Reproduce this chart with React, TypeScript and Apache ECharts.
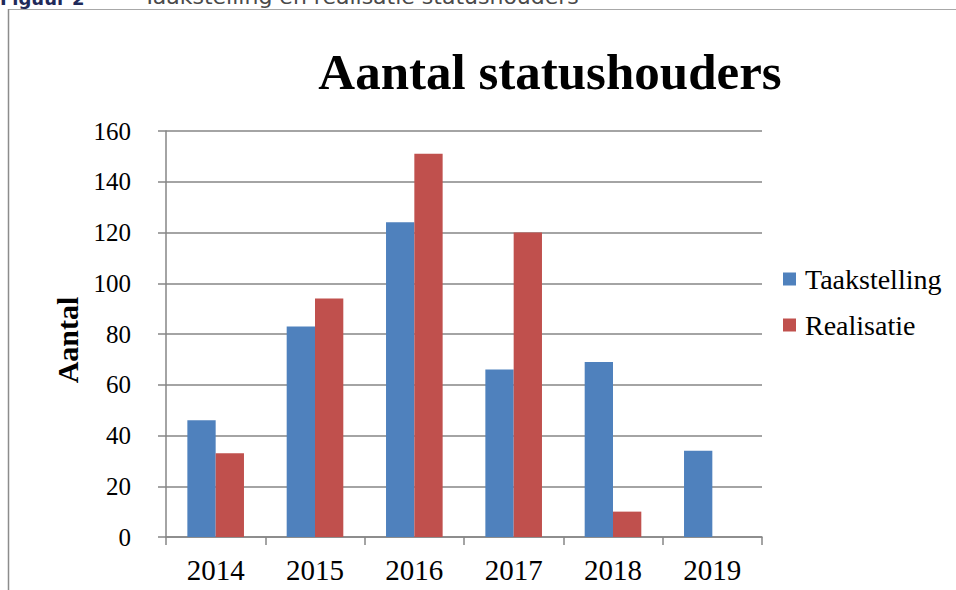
import React, { useEffect, useRef } from "react";
import * as echarts from "echarts";

const categories = ["2014", "2015", "2016", "2017", "2018", "2019"];
const taakstelling = [46, 83, 124, 66, 69, 34];
const realisatie = [33, 94, 151, 120, 10, null];
const seriesNames = ["Taakstelling", "Realisatie"];
const chartTitle = "Aantal statushouders";
const yAxisName = "Aantal";
const figureLabel = "Figuur 2";
const figureCaption = "Taakstelling en realisatie statushouders";

const SERIF = "'Liberation Serif', 'DejaVu Serif', serif";

export default function App() {
  const ref = useRef<HTMLDivElement>(null);
  useEffect(() => {
    if (!ref.current) return;
    const chart = echarts.init(ref.current, undefined, { renderer: "svg" });
    chart.setOption({
      animation: false,
      backgroundColor: "#ffffff",
      title: {
        text: chartTitle,
        left: 545,
        top: 41,
        textAlign: "center",
        textStyle: { fontFamily: SERIF, fontSize: 51, fontWeight: "bold", color: "#000" },
      },
      legend: {
        orient: "vertical",
        left: 783,
        top: 265,
        itemWidth: 13,
        itemHeight: 13,
        itemGap: 18,
        padding: 0,
        icon: "rect",
        data: seriesNames,
        textStyle: { fontFamily: SERIF, fontSize: 28, color: "#000", padding: [0, 0, 0, 4] },
      },
      grid: { left: 166, right: 194, top: 131, bottom: 53, containLabel: false },
      xAxis: {
        type: "category",
        data: categories,
        axisLine: { show: true, lineStyle: { color: "#868686", width: 1.5 } },
        axisTick: { show: true, length: 8, lineStyle: { color: "#868686", width: 1.5 } },
        axisLabel: { fontFamily: SERIF, fontSize: 29, color: "#000", margin: 18 },
      },
      yAxis: {
        type: "value",
        min: 0,
        max: 160,
        interval: 20,
        name: yAxisName,
        nameLocation: "middle",
        nameRotate: 90,
        nameGap: 84,
        nameTextStyle: {
          fontFamily: SERIF,
          fontSize: 30,
          fontWeight: "bold",
          color: "#000",
          padding: [0, 12, 0, 0],
        },
        axisLine: { show: true, lineStyle: { color: "#868686", width: 1.5 } },
        axisTick: { show: true, length: 8, lineStyle: { color: "#868686", width: 1.5 } },
        axisLabel: { fontFamily: SERIF, fontSize: 25, color: "#000", margin: 35 },
        splitLine: { show: true, lineStyle: { color: "#868686", width: 1.5 } },
      },
      series: [
        {
          name: seriesNames[0],
          type: "bar",
          data: taakstelling,
          barGap: "0%",
          barCategoryGap: "43%",
          itemStyle: { color: "#4F81BD" },
        },
        {
          name: seriesNames[1],
          type: "bar",
          data: realisatie,
          barGap: "0%",
          barCategoryGap: "43%",
          itemStyle: { color: "#C0504D" },
        },
      ],
      graphic: [
        {
          type: "line",
          shape: { x1: 8, y1: 9.5, x2: 956, y2: 9.5 },
          style: { stroke: "#a8a8a8", lineWidth: 1 },
        },
        {
          type: "line",
          shape: { x1: 8.5, y1: 9, x2: 8.5, y2: 590 },
          style: { stroke: "#8c8c8c", lineWidth: 1.5 },
        },
        {
          type: "text",
          x: 0,
          y: 7,
          style: {
            text: figureLabel,
            fontFamily: "'DejaVu Sans', Verdana, sans-serif",
            fontSize: 18,
            fontWeight: "bold",
            fill: "#1f2a5a",
            verticalAlign: "bottom",
          },
        },
        {
          type: "text",
          x: 143,
          y: 7,
          style: {
            text: figureCaption,
            fontFamily: "'DejaVu Sans', Verdana, sans-serif",
            fontSize: 22,
            fill: "#4a4a4a",
            verticalAlign: "bottom",
          },
        },
      ],
    });
    return () => chart.dispose();
  }, []);
  return (
    <div
      ref={ref}
      style={{ position: "fixed", left: 0, top: 0, width: 956, height: 590 }}
    />
  );
}
